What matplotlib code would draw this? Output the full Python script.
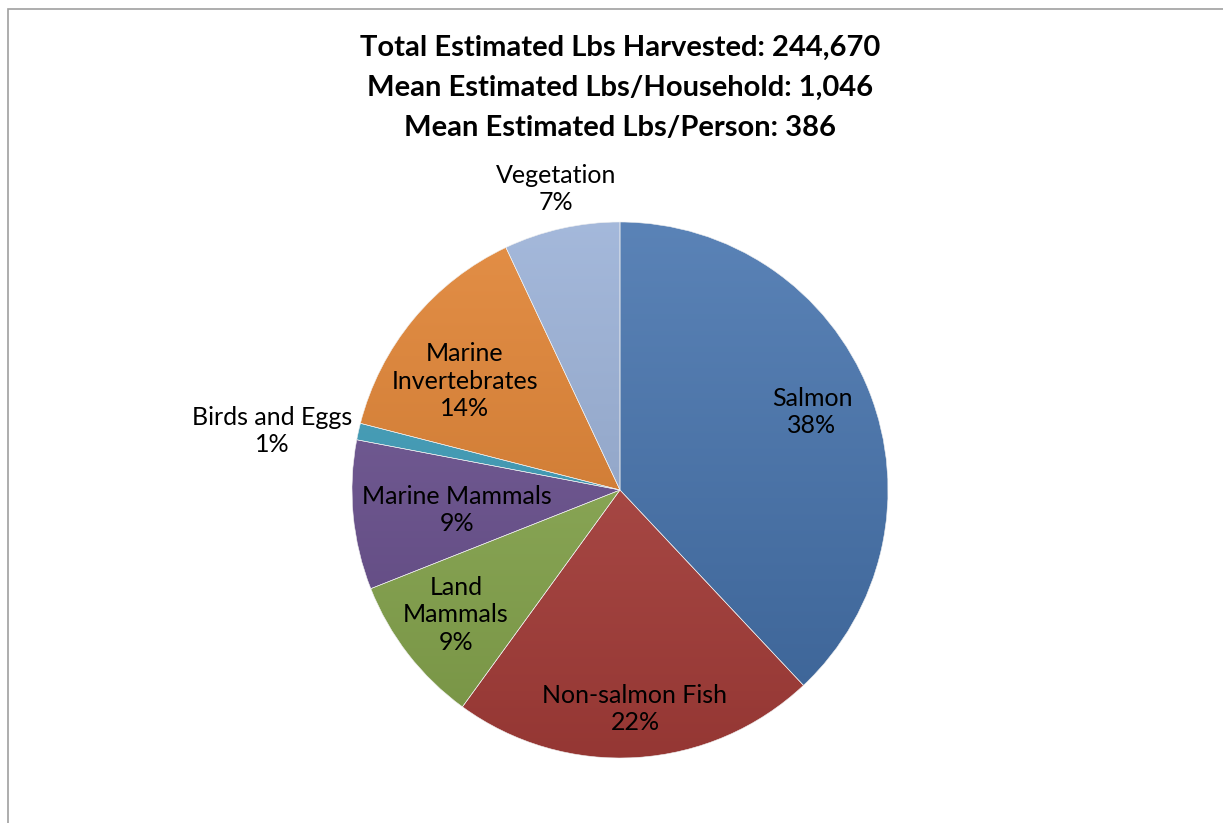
import numpy as np
import matplotlib.pyplot as plt
import matplotlib.colors as mcolors

categories = ["Salmon", "Non-salmon Fish", "Land\nMammals", "Marine Mammals",
              "Birds and Eggs", "Marine\nInvertebrates", "Vegetation"]
shares = [38, 22, 9, 9, 1, 14, 7]
colors = ["#4472ad", "#ad403c", "#8aab4f", "#6a5090", "#3b9dba", "#e0802e", "#98afd6"]
title_lines = ["Total Estimated Lbs Harvested: 244,670",
               "Mean Estimated Lbs/Household: 1,046",
               "Mean Estimated Lbs/Person: 386"]

W, H = 1223, 823
fig = plt.figure(figsize=(W / 100, H / 100), dpi=100)
ax = fig.add_axes([0, 0, 1, 1])

cx, cy, r = 620, 490, 268

# pie drawn with flipped y, so counterclockwise in data = clockwise on screen
wedges, _ = ax.pie(shares, center=(cx, cy), radius=r, startangle=-90,
                   counterclock=True, colors=colors, frame=True,
                   wedgeprops=dict(edgecolor="#f0f0f0", linewidth=0.4))
ax.set_xlim(0, W)
ax.set_ylim(H, 0)
ax.set_aspect("auto")
ax.axis("off")

# Excel-style vertical gradient on each slice
grad = np.linspace(0, 1, 256).reshape(-1, 1)
for w, c in zip(wedges, colors):
    base = np.array(mcolors.to_rgb(c))
    light = base + (1 - base) * 0.12
    dark = base * 0.86
    cmap = mcolors.LinearSegmentedColormap.from_list("g", [light, dark])
    im = ax.imshow(grad, cmap=cmap, extent=(cx - r, cx + r, cy + r, cy - r),
                   aspect="auto", zorder=w.get_zorder() + 0.1)
    im.set_clip_path(w)
    w.set_facecolor("none")
    w.set_zorder(w.get_zorder() + 0.2)
ax.set_xlim(0, W)
ax.set_ylim(H, 0)

font = "Lato"
label_pos = {
    "Salmon": (812, 412),
    "Non-salmon Fish": (635, 709),
    "Land\nMammals": (456, 615),
    "Marine Mammals": (457, 510),
    "Birds and Eggs": (272, 431),
    "Marine\nInvertebrates": (465, 381),
    "Vegetation": (556, 189),
}
for name, s in zip(categories, shares):
    x, y = label_pos[name]
    ax.text(x, y, f"{name}\n{s}%", ha="center", va="center", fontsize=18,
            family=font, linespacing=1.22, zorder=10)

for i, line in enumerate(title_lines):
    ax.text(620, 48 + 40 * i, line, ha="center", va="center", fontsize=21,
            fontweight="bold", family=font, zorder=10)

# outer chart frame
ax.plot([7.5, 7.5, W + 5], [H + 5, 8.5, 8.5], color="#a0a0a0", lw=1.2,
        solid_joinstyle="miter")

fig.savefig("out.png", dpi=100)
